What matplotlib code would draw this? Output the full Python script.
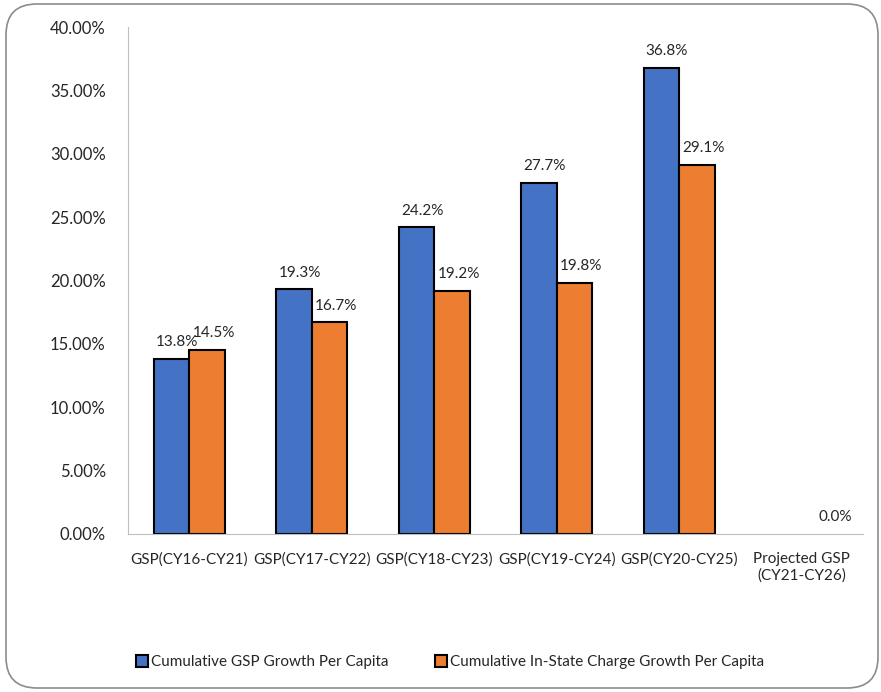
import matplotlib
matplotlib.use("Agg")
import matplotlib.pyplot as plt
import numpy as np
from matplotlib.patches import FancyBboxPatch

plt.rcParams['font.family'] = ['Lato', 'DejaVu Sans']

categories = ["GSP(CY16-CY21)", "GSP(CY17-CY22)", "GSP(CY18-CY23)",
              "GSP(CY19-CY24)", "GSP(CY20-CY25)", "Projected GSP\n(CY21-CY26)"]
gsp_growth = [0.138, 0.193, 0.242, 0.277, 0.368, np.nan]
charge_growth = [0.145, 0.167, 0.192, 0.198, 0.291, 0.0]
series_names = ["Cumulative GSP Growth Per Capita",
                "Cumulative In-State Charge Growth Per Capita"]
yticks = [0, 0.05, 0.10, 0.15, 0.20, 0.25, 0.30, 0.35, 0.40]

blue = "#4472C4"
orange = "#ED7D31"

fig = plt.figure(figsize=(8.81, 6.92), dpi=100)
frame = FancyBboxPatch((6/881, 4/692), 872/881, 684/692,
                       boxstyle="round,pad=0,rounding_size=0.035",
                       transform=fig.transFigure, facecolor="white",
                       edgecolor="#8c8c8c", linewidth=1.2, zorder=-10,
                       mutation_aspect=881/692)
fig.patches.append(frame)

ax = fig.add_axes([128/881, 1-534/692, 735/881, 507/692])
ax.set_facecolor("none")
x = np.arange(len(categories))
w = 0.29
b1 = ax.bar(x - w/2, gsp_growth, w, color=blue, edgecolor="black", linewidth=1.5, label=series_names[0])
b2 = ax.bar(x + w/2, charge_growth, w, color=orange, edgecolor="black", linewidth=1.5, label=series_names[1])
for bars in (b1, b2):
    for r in bars:
        h = r.get_height()
        if not np.isfinite(h) or h == 0:
            r.set_linewidth(0)

for xi, v in zip(x, gsp_growth):
    if not np.isnan(v):
        ax.annotate(f"{v*100:.1f}%", (xi - w/2, v), xytext=(4, 7), textcoords="offset points",
                    ha="center", va="bottom", fontsize=11, color="#262626")
for xi, v in zip(x, charge_growth):
    dx = 5 if v > 0 else 11
    ax.annotate(f"{v*100:.1f}%", (xi + w/2, v), xytext=(dx, 7), textcoords="offset points",
                ha="center", va="bottom", fontsize=11, color="#262626")

ax.set_xlim(-0.5, len(categories) - 0.5)
ax.set_ylim(0, 0.40)
ax.set_yticks(yticks)
ax.set_yticklabels([f"{t*100:.2f}%" for t in yticks], fontsize=12, color="#262626")
ax.set_xticks(x)
ax.set_xticklabels(categories, fontsize=11, color="#262626")
ax.tick_params(axis="both", length=0)
ax.tick_params(axis="y", pad=16)
ax.tick_params(axis="x", pad=13)
for s in ["top", "right"]:
    ax.spines[s].set_visible(False)
ax.spines["left"].set_color("#bfbfbf")
ax.spines["bottom"].set_color("#bfbfbf")

fig.legend(handles=[b1, b2], labels=series_names, loc="center",
           bbox_to_anchor=(450/881, 1-662/692), ncol=2, frameon=False,
           fontsize=11, handlelength=0.8, handleheight=0.8, handletextpad=0.2,
           columnspacing=3.0, labelcolor="#262626")

fig.savefig("out.png", dpi=100)
